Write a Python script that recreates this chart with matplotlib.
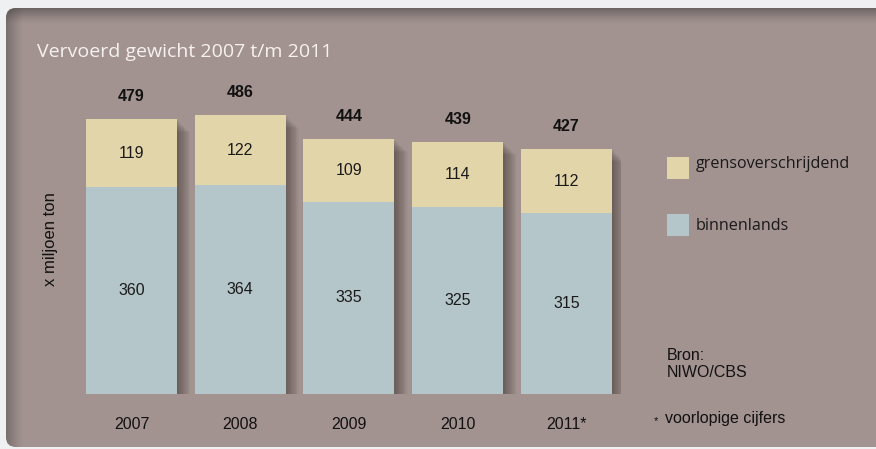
import matplotlib.pyplot as plt
import numpy as np
from matplotlib.patches import FancyBboxPatch, Rectangle
import matplotlib.patheffects as pe

years = ['2007', '2008', '2009', '2010', '2011*']
binnenlands = [360, 364, 335, 325, 315]
grens = [119, 122, 109, 114, 112]
totaal = [479, 486, 444, 439, 427]

c_grens = '#e3d5aa'
c_binnen = '#b4c6c9'
c_panel = '#a29390'

fig = plt.figure(figsize=(8.76, 4.49), dpi=100, facecolor='#eef0f1')

# background panel (pixel coords)
bg = fig.add_axes([0, 0, 1, 1], zorder=0)
bg.axis('off')
panel = FancyBboxPatch((6, 8), 900, 439, boxstyle='round,pad=0,rounding_size=10',
                       fc=c_panel, ec='none', zorder=1)
bg.add_patch(panel)
# inner shadow top / left
top = np.zeros((40, 2, 4))
top[..., :3] = 0.22
top[..., 3] = np.linspace(0.6, 0, 40)[:, None] ** 1.3
im = bg.imshow(top, extent=(6, 900, 24, 8), aspect='auto', interpolation='bilinear', zorder=2)
im.set_clip_path(panel)
left = np.zeros((2, 40, 4))
left[..., :3] = 0.22
left[..., 3] = np.linspace(0.5, 0, 40)[None, :] ** 1.3
im2 = bg.imshow(left, extent=(6, 24, 449, 8), aspect='auto', interpolation='bilinear', zorder=2)
im2.set_clip_path(panel)
bg.set_xlim(0, 876)
bg.set_ylim(449, 0)

bg.text(37, 52, 'Vervoerd gewicht 2007 t/m 2011', color='#f6f2ef', fontsize=14,
        family='Open Sans', va='center', ha='left')

# main axes
ax = fig.add_axes([77.1 / 876, 1 - 394 / 449, 543.75 / 876, 321.5 / 449], zorder=1)
ax.set_xlim(-0.5, 4.5)
ax.set_ylim(0, 560)
ax.patch.set_alpha(0)
for s in ax.spines.values():
    s.set_visible(False)
ax.set_xticks([])
ax.set_yticks([])

x = np.arange(len(years))
w = 0.837

# soft shadow behind bars
shadow = [pe.SimplePatchShadow(offset=(0.5 + i * 0.6, -0.5 - i * 0.6), shadow_rgbFace='#3a302e',
                               alpha=0.04) for i in range(16)]
sb = ax.bar(x, totaal, w, color='k')
for p in sb:
    p.set_path_effects(shadow)

ax.bar(x, binnenlands, w, color=c_binnen, zorder=2)
ax.bar(x, grens, w, bottom=binnenlands, color=c_grens, zorder=2)

for i in x:
    ax.text(i, binnenlands[i] / 2, str(binnenlands[i]), ha='center', va='center',
            fontsize=11.5, family='Liberation Sans', color='#1a1a1a', zorder=3)
    ax.text(i, binnenlands[i] + grens[i] / 2, str(grens[i]), ha='center', va='center',
            fontsize=11.5, family='Liberation Sans', color='#1a1a1a', zorder=3)
    ax.annotate(str(totaal[i]), (i, totaal[i]), xytext=(0, 16), textcoords='offset points',
                ha='center', va='center', fontsize=11.5, fontweight='bold',
                family='Liberation Sans', color='#111111')
    ax.annotate(years[i], (i, 0), xytext=(0, -22), textcoords='offset points',
                ha='center', va='center', fontsize=11.5, family='Liberation Sans',
                color='#111111')

bg.text(50, 239, 'x miljoen ton', rotation=90, ha='center', va='center', fontsize=12,
        family='Liberation Sans', color='#111111')

# legend
bg.add_patch(Rectangle((667, 157), 22, 22, fc=c_grens, ec='none', zorder=3))
bg.add_patch(Rectangle((667, 214), 22, 22, fc=c_binnen, ec='none', zorder=3))
bg.text(696, 164, 'grensoverschrijdend', ha='left', va='center', fontsize=11.6,
        family='Open Sans', color='#1a1a1a')
bg.text(696, 226, 'binnenlands', ha='left', va='center', fontsize=11.6,
        family='Open Sans', color='#1a1a1a')

bg.text(667, 364, 'Bron:\nNIWO/CBS', ha='left', va='center', fontsize=11.5,
        family='Liberation Sans', color='#111111', linespacing=1.1)
bg.text(654, 421, '*', ha='left', va='center', fontsize=8, family='Liberation Sans',
        color='#111111')
bg.text(665, 419, 'voorlopige cijfers', ha='left', va='center', fontsize=11.5,
        family='Liberation Sans', color='#111111')

fig.savefig('out.png', dpi=100, facecolor=fig.get_facecolor())
